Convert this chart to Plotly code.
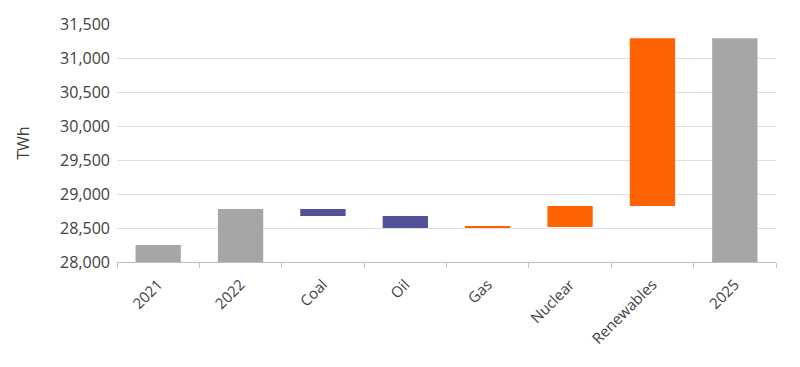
import plotly.graph_objects as go

categories = ["2021", "2022", "Coal", "Oil", "Gas", "Nuclear", "Renewables", "2025"]
values = [28250, 28780, -105, -175, 15, 310, 2465, 0]
measures = ["absolute", "absolute", "relative", "relative", "relative", "relative", "relative", "total"]
y_ticks = [28000, 28500, 29000, 29500, 30000, 30500, 31000, 31500]

fig = go.Figure(go.Waterfall(
    x=categories,
    y=values,
    measure=measures,
    increasing=dict(marker=dict(color="#FF6200", line=dict(width=0))),
    decreasing=dict(marker=dict(color="#525199", line=dict(width=0))),
    totals=dict(marker=dict(color="#A6A6A6", line=dict(width=0))),
    connector=dict(visible=False),
    hoverinfo="x+y",
))

font_family = "Open Sans, Noto Sans, sans-serif"
fig.update_layout(
    width=792, height=359,
    margin=dict(l=109, r=24, t=16, b=105),
    paper_bgcolor="white", plot_bgcolor="white",
    font=dict(family=font_family, size=15, color="#404040"),
    waterfallgap=0.45,
    showlegend=False,
)
fig.update_xaxes(
    type="category",
    tickangle=-45,
    automargin=False,
    showline=True, linecolor="#BFBFBF", linewidth=1,
    ticks="outside", tickson="boundaries", ticklen=5, tickcolor="#BFBFBF",
    ticklabelstandoff=7,
    showgrid=False,
    tickfont=dict(size=15),
)
fig.update_yaxes(
    range=[28000, 31500],
    automargin=False,
    tickvals=y_ticks,
    tickformat=",",
    showgrid=True, gridcolor="#E0E0E0", gridwidth=1,
    showline=False, zeroline=False,
    ticks="", ticklabelstandoff=6,
    title=dict(text="TWh", font=dict(size=16), standoff=26),
    tickfont=dict(size=16),
)

fig.write_html("out.html")
